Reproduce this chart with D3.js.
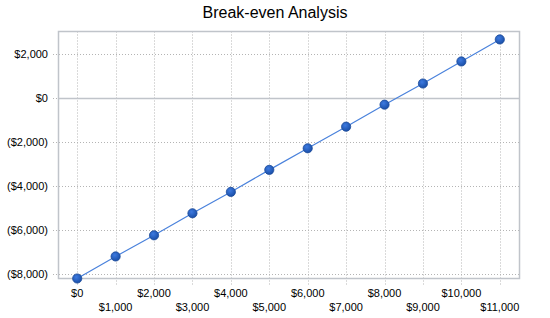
<!DOCTYPE html>
<html><head><meta charset="utf-8">
<script src="https://cdn.jsdelivr.net/npm/d3@7"></script>
<style>
body{margin:0;background:#fff;}
svg{display:block;font-family:"Liberation Sans",Arial,sans-serif;}
</style></head>
<body>
<svg id="c" width="550" height="318"></svg>
<script>
const title = "Break-even Analysis";
const categories = ["$0","$1,000","$2,000","$3,000","$4,000","$5,000","$6,000","$7,000","$8,000","$9,000","$10,000","$11,000"];
const values = [-8200,-7200,-6240,-5240,-4270,-3270,-2290,-1310,-310,650,1650,2650];
const yTicks = [-8000,-6000,-4000,-2000,0,2000];
const yDomain = [-8200,3010];

const svg = d3.select("#c");
const L=58, R=519, T=31.5, B=278.5;

const x = d3.scaleBand().domain(categories).range([L,R]);
const y = d3.scaleLinear().domain(yDomain).range([B,T]);
const fmt = v => v<0 ? "($"+d3.format(",")(-v)+")" : "$"+d3.format(",")(v);

svg.append("text").attr("x",275).attr("y",18).attr("text-anchor","middle")
  .attr("font-size",16).attr("fill","#000").text(title);

const g = svg.append("g");
// vertical grid
g.selectAll("line.vx").data(categories).join("line")
  .attr("x1",d=>Math.round(x(d)+x.bandwidth()/2)+0.5).attr("x2",d=>Math.round(x(d)+x.bandwidth()/2)+0.5)
  .attr("y1",T).attr("y2",B+7)
  .attr("stroke","#b4b4b4").attr("stroke-dasharray","1,2");
// horizontal grid (dotted, with tick stub to left)
g.selectAll("line.hy").data(yTicks.filter(d=>d!==0)).join("line")
  .attr("x1",L-5).attr("x2",R).attr("y1",d=>Math.round(y(d))+0.5).attr("y2",d=>Math.round(y(d))+0.5)
  .attr("stroke","#b4b4b4").attr("stroke-width",1).attr("stroke-dasharray","1,2");
// zero line: dotted stub + solid line
g.append("line").attr("x1",L-5).attr("x2",L).attr("y1",Math.round(y(0))+0.5).attr("y2",Math.round(y(0))+0.5)
  .attr("stroke","#b4b4b4").attr("stroke-dasharray","1,2");
g.append("line").attr("x1",L).attr("x2",R).attr("y1",Math.round(y(0))+0.5).attr("y2",Math.round(y(0))+0.5)
  .attr("stroke","#c0c4ca").attr("stroke-width",1.5);

// frame
svg.append("rect").attr("x",L+0.5).attr("y",T).attr("width",R-L).attr("height",B-T)
  .attr("fill","none").attr("stroke","#c0c4ca").attr("stroke-width",1.5);

// y labels
svg.selectAll("text.yl").data(yTicks).join("text")
  .attr("x",L-10).attr("y",d=>y(d)+4).attr("text-anchor","end")
  .attr("font-size",11).attr("fill","#000").text(fmt);
// x labels
svg.selectAll("text.xl").data(categories).join("text")
  .attr("x",d=>x(d)+x.bandwidth()/2).attr("y",(d,i)=>i%2===0?297:311)
  .attr("text-anchor","middle").attr("font-size",11).attr("fill","#000").text(d=>d);

const defs = svg.append("defs");
const rg = defs.append("radialGradient").attr("id","mk").attr("cx","40%").attr("cy","35%").attr("r","65%");
rg.append("stop").attr("offset","0%").attr("stop-color","#3d7ae0");
rg.append("stop").attr("offset","100%").attr("stop-color","#1a4fa8");

const line = d3.line().x((d,i)=>x(categories[i])+x.bandwidth()/2).y(d=>y(d));
svg.append("path").datum(values).attr("d",line).attr("fill","none")
  .attr("stroke","#4a82dc").attr("stroke-width",1.2);
svg.selectAll("circle").data(values).join("circle")
  .attr("cx",(d,i)=>x(categories[i])+x.bandwidth()/2).attr("cy",d=>y(d)).attr("r",4.6)
  .attr("fill","url(#mk)").attr("stroke","#1c4a98").attr("stroke-width",0.8);
</script>
</body></html>
